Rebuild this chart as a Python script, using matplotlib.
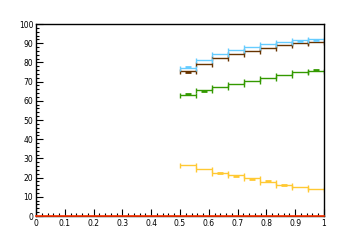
import numpy as np
import matplotlib
matplotlib.use('Agg')
import matplotlib.pyplot as plt
from matplotlib.ticker import MultipleLocator

# bin edges (9 bins from 0.5 to 1)
edges = np.linspace(0.5, 1.0, 10)
centers = (edges[:-1] + edges[1:]) / 2
half = (edges[1] - edges[0]) / 2

blue = [77.0, 81.2, 84.3, 86.4, 88.2, 89.7, 90.6, 91.7, 92.3]
brown = [75.4, 79.1, 82.3, 84.3, 85.9, 87.5, 89.2, 89.9, 90.6]
green = [62.9, 65.6, 67.3, 68.9, 70.4, 72.0, 73.4, 74.8, 75.4]
yellow = [26.6, 24.3, 22.3, 21.2, 19.7, 17.7, 16.3, 15.0, 13.9]

# small point markers (bin index, value)
blue_pts = ([0, 7, 8], [77.6, 91.3, 91.9])
brown_pts = ([0], [74.8])
green_pts = ([0, 1, 8], [63.3, 65.0, 75.9])
yellow_pts = ([2, 3, 4, 5, 6], [22.6, 20.7, 19.1, 18.0, 16.2])

series = [
    (yellow, yellow_pts, '#ffc933'),
    (green, green_pts, '#339900'),
    (brown, brown_pts, '#663300'),
    (blue, blue_pts, '#66ccff'),
]

fig = plt.figure(figsize=(3.6, 2.4), dpi=100)
ax = fig.add_axes([0.1, 0.1, 0.8, 0.8])

for vals, pts, col in series:
    ax.errorbar(centers, vals, xerr=half, fmt='none', ecolor=col,
                elinewidth=1.0, capsize=1.8, capthick=1.0)
    idx, pv = pts
    ax.plot(centers[idx], pv, linestyle='none', marker='_', color=col,
            markersize=5, markeredgewidth=2)

# red zero line across the full range
ax.plot([0, 1], [0, 0], color='#ff3300', lw=1.2, clip_on=False, zorder=3)

ax.set_xlim(0, 1)
ax.set_ylim(0, 100)
ax.xaxis.set_major_locator(MultipleLocator(0.1))
ax.xaxis.set_minor_locator(MultipleLocator(0.02))
ax.yaxis.set_major_locator(MultipleLocator(10))
ax.yaxis.set_minor_locator(MultipleLocator(2))
ax.tick_params(which='both', direction='in', top=False, right=False,
               labelsize=5.5, width=0.8, pad=2)
ax.tick_params(which='major', length=5)
ax.tick_params(which='minor', length=2.5)
ax.xaxis.set_major_formatter(plt.FuncFormatter(lambda v, p: '%g' % round(v, 2)))
for s in ax.spines.values():
    s.set_linewidth(1.0)

fig.savefig('out.png', dpi=100)
